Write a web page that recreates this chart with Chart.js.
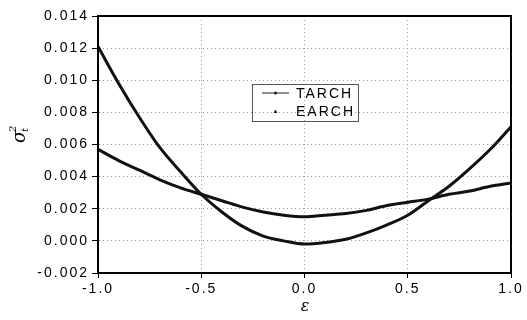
<!DOCTYPE html>
<html>
<head>
<meta charset="utf-8">
<script src="https://cdn.jsdelivr.net/npm/chart.js@4"></script>
<style>
  html, body { margin: 0; padding: 0; background: #fff; }
  #wrap { width: 527px; height: 320px; }
</style>
</head>
<body>
<div id="wrap"><canvas id="nicChart"></canvas></div>
<script>
const eps = [-1.0, -0.9, -0.8, -0.7, -0.6, -0.5, -0.4, -0.3, -0.2, -0.1, 0.0,
  0.1, 0.2, 0.3, 0.4, 0.5, 0.6, 0.7, 0.8, 0.9, 1.0];
const tarch = [0.0121, 0.0098, 0.0077, 0.0058, 0.0043, 0.0029, 0.0018, 0.0009, 0.0003, 0.0000, -0.0002,
  -0.0001, 0.0001, 0.0005, 0.0010, 0.0016, 0.0025, 0.0034, 0.0045, 0.0057, 0.0071];
const earch = [0.0057, 0.0050, 0.0044, 0.0038, 0.0033, 0.0029, 0.0025, 0.0021, 0.0018, 0.0016, 0.0015,
  0.0016, 0.0017, 0.0019, 0.0022, 0.0024, 0.0026, 0.0029, 0.0031, 0.0034, 0.0036];
const seriesNames = ["TARCH", "EARCH"];
const yTicks = [-0.002, 0.000, 0.002, 0.004, 0.006, 0.008, 0.010, 0.012, 0.014];
const xTicks = [-1.0, -0.5, 0.0, 0.5, 1.0];

const FONT = "Liberation Sans, Arial, sans-serif";

// letter spacing for all canvas text, border on top/right, legend box and axis titles
const extras = {
  id: "extras",
  beforeDraw(chart) {
    chart.ctx.letterSpacing = "2px";
  },
  afterDraw(chart) {
    const ctx = chart.ctx;
    const a = chart.chartArea;
    ctx.save();
    ctx.setLineDash([]);
    ctx.strokeStyle = "#000";
    ctx.lineWidth = 2;
    ctx.strokeRect(a.left, a.top, a.right - a.left, a.bottom - a.top);

    // legend
    ctx.lineWidth = 1;
    ctx.strokeStyle = "#555";
    ctx.strokeRect(252.5, 84.5, 106, 37);
    ctx.strokeStyle = "#222";
    ctx.beginPath();
    ctx.moveTo(262, 93);
    ctx.lineTo(289, 93);
    ctx.stroke();
    ctx.fillStyle = "#222";
    ctx.beginPath();
    ctx.arc(275.5, 93, 1.6, 0, Math.PI * 2);
    ctx.fill();
    ctx.beginPath();
    ctx.moveTo(273.5, 113);
    ctx.lineTo(277.5, 113);
    ctx.lineTo(275.5, 109.5);
    ctx.closePath();
    ctx.fill();
    ctx.fillStyle = "#000";
    ctx.font = "14px " + FONT;
    ctx.textBaseline = "middle";
    ctx.textAlign = "left";
    ctx.fillText(seriesNames[0], 296, 94);
    ctx.fillText(seriesNames[1], 296, 112);

    // x title
    ctx.letterSpacing = "0px";
    ctx.font = "italic 16px DejaVu Serif, serif";
    ctx.textAlign = "center";
    ctx.fillText("ε", 305, 307);

    // y title, rotated
    ctx.translate(20, 136);
    ctx.rotate(-Math.PI / 2);
    ctx.font = "italic 18px DejaVu Serif, serif";
    ctx.textAlign = "left";
    ctx.fillText("σ", -7, 0);
    ctx.font = "italic 10px DejaVu Serif, serif";
    ctx.fillText("2", 4, -7);
    ctx.fillText("t", 4, 5);
    ctx.restore();
  }
};

new Chart(document.getElementById("nicChart").getContext("2d"), {
  type: "line",
  data: {
    datasets: [{
      label: seriesNames[0],
      data: eps.map((e, i) => ({ x: e, y: tarch[i] })),
      borderColor: "#111",
      borderWidth: 3,
      pointRadius: 0,
      cubicInterpolationMode: "monotone"
    }, {
      label: seriesNames[1],
      data: eps.map((e, i) => ({ x: e, y: earch[i] })),
      borderColor: "#111",
      borderWidth: 3,
      pointRadius: 0,
      cubicInterpolationMode: "monotone"
    }]
  },
  options: {
    responsive: true,
    maintainAspectRatio: false,
    animation: false,
    layout: { padding: { top: 16, right: 16, left: 0, bottom: 0 } },
    plugins: { legend: { display: false }, tooltip: { enabled: false } },
    scales: {
      x: {
        type: "linear",
        min: -1, max: 1,
        afterBuildTicks: s => { s.ticks = xTicks.map(v => ({ value: v })); },
        afterFit: s => { s.height = 47; },
        grid: { color: "#999", tickColor: "#000", tickLength: 5 },
        border: { display: true, color: "#000", width: 2, dash: [1, 3] },
        ticks: {
          color: "#000",
          padding: 3,
          font: { family: FONT, size: 14 },
          maxRotation: 0,
          callback: v => v.toFixed(1)
        }
      },
      y: {
        min: -0.002, max: 0.014,
        afterBuildTicks: s => { s.ticks = yTicks.map(v => ({ value: v })); },
        afterFit: s => { s.width = 98; },
        grid: { color: "#999", tickColor: "#000", tickLength: 6 },
        border: { display: true, color: "#000", width: 2, dash: [1, 3] },
        ticks: {
          color: "#000",
          padding: 3,
          font: { family: FONT, size: 14 },
          callback: v => v.toFixed(3)
        }
      }
    }
  },
  plugins: [extras]
});
</script>
</body>
</html>
